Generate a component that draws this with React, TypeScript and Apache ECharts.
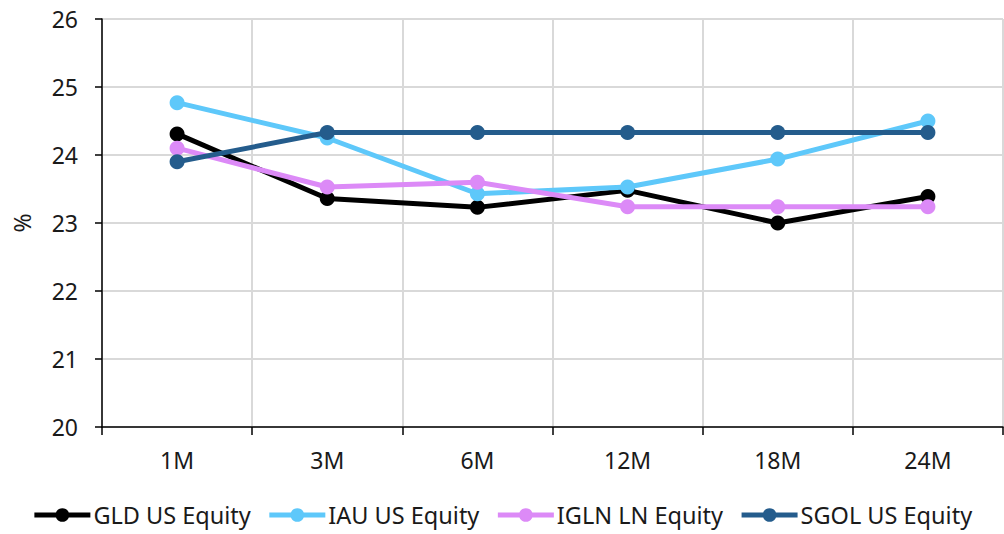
import React, { useEffect, useRef } from "react";
import * as echarts from "echarts";

const categories = ["1M", "3M", "6M", "12M", "18M", "24M"];
const gld = [24.31, 23.36, 23.23, 23.48, 23.0, 23.39];
const iau = [24.77, 24.25, 23.43, 23.53, 23.94, 24.5];
const igln = [24.1, 23.53, 23.6, 23.24, 23.24, 23.24];
const sgol = [23.9, 24.33, 24.33, 24.33, 24.33, 24.33];
const seriesNames = ["GLD US Equity", "IAU US Equity", "IGLN LN Equity", "SGOL US Equity"];
const colors = ["#000000", "#5EC8FA", "#DC8AF7", "#245C8C"];

export default function App() {
  const ref = useRef<HTMLDivElement>(null);
  useEffect(() => {
    const chart = echarts.init(ref.current!, null, { renderer: "svg" });
    const font = "'Noto Sans', sans-serif";
    const datasets = [gld, iau, igln, sgol];
    chart.setOption({
      animation: false,
      textStyle: { fontFamily: font },
      grid: { left: 102, right: 1, top: 19, bottom: 107, containLabel: false },
      legend: {
        bottom: 2,
        left: "center",
        itemWidth: 56,
        itemHeight: 17,
        itemGap: 16,
        lineStyle: { width: 5 },
        textStyle: { fontSize: 23.5, color: "#1a1a1a", fontFamily: font, padding: [0, 0, 0, -2] },
        data: seriesNames,
      },
      xAxis: {
        type: "category",
        data: categories,
        boundaryGap: true,
        axisLine: { lineStyle: { color: "#000", width: 1.5 } },
        axisTick: { show: true, length: 8, lineStyle: { color: "#000", width: 1.5 }, alignWithLabel: false },
        axisLabel: { fontSize: 23, color: "#1a1a1a", margin: 21, fontFamily: font },
        splitLine: { show: true, lineStyle: { color: "#d9d9d9", width: 2 } },
      },
      yAxis: {
        type: "value",
        min: 20,
        max: 26,
        interval: 1,
        name: "%",
        nameLocation: "middle",
        nameGap: 69,
        nameTextStyle: { fontSize: 23, color: "#1a1a1a", fontFamily: font },
        axisLine: { show: true, lineStyle: { color: "#000", width: 1.5 } },
        axisTick: { show: true, length: 7, lineStyle: { color: "#000", width: 1.5 } },
        axisLabel: { fontSize: 23, color: "#1a1a1a", margin: 24, fontFamily: font },
        splitLine: { show: true, lineStyle: { color: "#d9d9d9", width: 2 } },
      },
      series: datasets.map((d, i) => ({
        name: seriesNames[i],
        type: "line",
        data: d,
        color: colors[i],
        symbol: "circle",
        symbolSize: 15,
        lineStyle: { width: 5, color: colors[i] },
        itemStyle: { color: colors[i] },
        z: 2 + i,
      })),
    });
    return () => chart.dispose();
  }, []);
  return <div ref={ref} style={{ width: 1004, height: 534, position: "absolute", left: 0, top: 0 }} />;
}
